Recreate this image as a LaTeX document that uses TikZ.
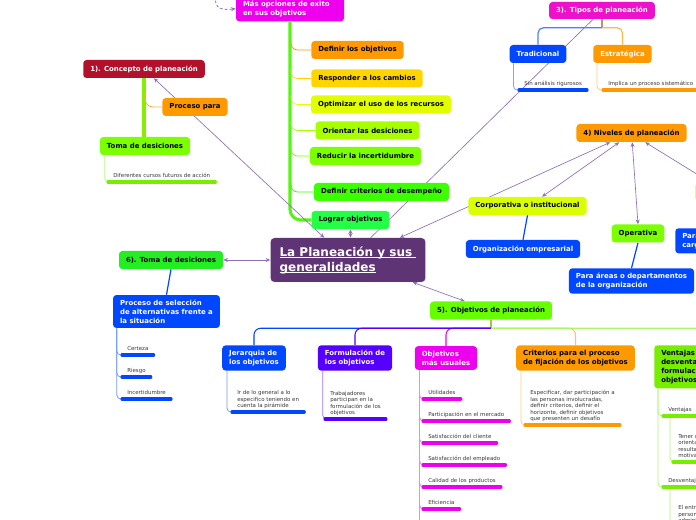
\documentclass[tikz,border=0pt]{standalone}
\usepackage{fontspec}
\setmainfont{DejaVu Sans}
\usetikzlibrary{arrows.meta,calc,backgrounds}

\definecolor{cpurple}{HTML}{5E3475}
\definecolor{ccrimson}{HTML}{B3102C}
\definecolor{corange}{HTML}{FF9900}
\definecolor{cgold}{HTML}{FFD500}
\definecolor{cyellow}{HTML}{E2FF00}
\definecolor{cyg}{HTML}{A8FF00}
\definecolor{clime}{HTML}{7CFF00}
\definecolor{cgreen}{HTML}{3CFF00}
\definecolor{cgreen2}{HTML}{22FF44}
\definecolor{cgreen6}{HTML}{22EE22}
\definecolor{cgreen5}{HTML}{66FF00}
\definecolor{cmag}{HTML}{EE00EE}
\definecolor{cpink}{HTML}{EE11CC}
\definecolor{cblue}{HTML}{0047FF}
\definecolor{cviolet}{HTML}{5500FF}
\definecolor{cvent}{HTML}{77EE00}
\definecolor{ccorp}{HTML}{D9FF00}
\definecolor{carrow}{HTML}{9070B8}
\definecolor{cleaftext}{HTML}{383838}
\definecolor{cbrown}{HTML}{B8946A}
\definecolor{cmain}{HTML}{55F510}
\definecolor{cthick}{HTML}{88EE00}
\definecolor{colive}{HTML}{99CC44}

\newcommand\myul[1]{\setbox0=\hbox{#1}\rlap{\rule[-1.6pt]{\wd0}{0.6pt}}\box0}

\tikzset{
  box/.style={rounded corners=2.5pt, inner xsep=5.25pt, inner ysep=3.5pt, minimum height=13.5pt, align=left, font=\bfseries\fontsize{5.2}{6.75}\selectfont, text=black},
  wbox/.style={box, text=white},
  leafn/.style={anchor=south west, inner xsep=3.75pt, inner ysep=2.2pt, text depth=0.9pt, align=left, font=\fontsize{4.1}{4.9}\selectfont, text=cleaftext},
  ulstyle/.style={line width=2.3pt, line cap=round},
  thinl/.style={line width=0.6pt, rounded corners=3pt},
  branch/.style={line width=0.6pt, rounded corners=5pt},
  objl/.style={line width=0.8pt, rounded corners=5pt},
  conn/.style={line width=0.9pt},
  arr/.style={draw=carrow, line width=0.5pt, {Stealth[length=3.5pt,width=3pt]}-{Stealth[length=3.5pt,width=3pt]}},
}

\begin{document}
\begin{tikzpicture}[x=0.75pt,y=-0.75pt]
\useasboundingbox (0,0) rectangle (696,520);

% central node
\node[wbox, fill=cpurple, font=\bfseries\fontsize{9}{11.25}\selectfont, inner xsep=6.75pt, minimum height=33pt, minimum width=114pt, rounded corners=3pt] (center) at (348,260) {\myul{La Planeación y sus\ }\\\myul{generalidades}};

% Más opciones
\node[wbox, fill=cmag, text width=70.5pt] (mas) at (290,8.7) {Más opciones de exito\\en sus objetivos};
\node[box, fill=corange] (def) at (357.5,50) {Definir los objetivos};
\node[box, fill=cgold] (resp) at (367,78.5) {Responder a los cambios};
\node[box, fill=cyellow] (opt) at (381,104.5) {Optimizar el uso de los recursos};
\node[box, fill=cyg] (ori) at (367.5,130.5) {Orientar las desiciones};
\node[box, fill=clime] (red) at (365.5,156) {Reducir la incertidumbre};
\node[box, fill=cgreen] (crit) at (381.5,192) {Definir criterios de desempeño};
\node[box, fill=cgreen2] (log) at (350.5,220) {Lograr objetivos};

% Concepto
\node[wbox, fill=ccrimson] (concepto) at (144,69) {1). Concepto de planeación};
\node[box, fill=corange] (proceso) at (195,107) {Proceso para};
\node[box, fill=clime] (toma1) at (145,146) {Toma de desiciones};
\node[leafn] (lt1) at (108,182) {Diferentes cursos futuros de acción};

% Tipos
\node[wbox, fill=cpink, minimum height=12.75pt] (tipos) at (602,10.5) {3). Tipos de planeación};
\node[wbox, fill=cblue] (trad) at (538,54) {Tradicional};
\node[wbox, fill=corange] (estr) at (622.5,54) {Estratégica};
\node[leafn] (ltrad) at (519,90) {Sin análisis rigurosos};
\node[leafn] (lestr) at (603,90) {Implica un proceso sistemático};

% Niveles
\node[box, fill=corange] (niv) at (631.5,133) {4) Niveles de planeación};
\node[box, fill=ccorp] (corp) at (527.5,206) {Corporativa o institucional};
\node[wbox, fill=cblue] (orgemp) at (523,249) {Organización empresarial};
\node[box, fill=clime] (oper) at (638,233.5) {Operativa};
\node[wbox, fill=cblue] (areas) at (631.5,281) {Para áreas o departamentos\\de la organización};
\node[wbox, fill=cblue, anchor=north west] (cargos) at (675,228) {Para los\\cargos};
\node[box, fill=cyellow, anchor=west] (tact) at (695,192) {Táctica};

% Toma de desiciones 6
\node[box, fill=cgreen6] (toma6) at (171,260) {6). Toma de desiciones};
\node[wbox, fill=cblue] (procsel) at (166.5,311.5) {Proceso de selección\\de alternativas frente a\\la situación};
\node[leafn] (lcert) at (122,355) {Certeza};
\node[leafn] (lries) at (122,377) {Riesgo};
\node[leafn] (linc) at (122,399) {Incertidumbre};

% Objetivos 5
\node[box, fill=cgreen5] (obj5) at (491,310.5) {5). Objetivos de planeación};
\node[wbox, fill=cblue] (jer) at (254,358) {Jerarquia de\\los objetivos};
\node[wbox, fill=cviolet] (form) at (355,358) {Formulación de\\los objetivos};
\node[wbox, fill=cmag] (usu) at (446,358) {Objetivos\\más usuales};
\node[box, fill=corange] (critp) at (575.5,358) {Criterios para el proceso\\de fijación de los objetivos};
\node[box, fill=cvent, anchor=north west, text width=80pt] (vent) at (654,345) {Ventajas y\\desventajas de la\\formulación de\\objetivos};

\node[leafn] (lj) at (232,412) {Ir de lo general a lo\\especifico teniendo en\\cuenta la pirámide};
\node[leafn] (lf) at (325,419) {Trabajadores\\participan en la\\formulación de los\\objetivos};
\node[leafn] (lu1) at (423,399) {Utilidades};
\node[leafn] (lu2) at (423,421) {Participación en el mercado};
\node[leafn] (lu3) at (423,443) {Satisfacción del cliente};
\node[leafn] (lu4) at (423,465) {Satisfacción del empleado};
\node[leafn] (lu5) at (423,487) {Calidad de los productos};
\node[leafn] (lu6) at (423,509) {Eficiencia};
\node[leafn] (lc) at (525,425) {Especificar, dar participación a\\las personas involucradas,\\definir criterios, definir el\\horizonte, definir objetivos\\que presenten un desafío};
\node[leafn] (lv) at (663,416) {Ventajas};
\node[leafn] (lten) at (673,462) {Tener una\\orientación a\\resultados y\\motivación};
\node[leafn] (ldes) at (663,487) {Desventajas};
\node[leafn] (lent) at (673,527) {El entrenamiento\\personal\\administrativo};

% underlines
\foreach \l/\c in {lt1/cvent, ltrad/cblue, lestr/corange, lcert/cblue, lries/cblue, linc/cblue, lj/cblue, lf/cviolet, lu1/cmag, lu2/cmag, lu3/cmag, lu4/cmag, lu5/cmag, lu6/cmag, lc/corange, lv/cvent, lten/cvent, ldes/cvent, lent/cvent}
  \draw[ulstyle, draw=\c] (\l.south west) -- (\l.south east);

\begin{pgfonlayer}{background}
\fill[white] (0,0) rectangle (696,520);

% Más opciones tree
\draw[line width=2.3pt, draw=cmain, rounded corners=8pt] (mas.south) |- (log.west);
\foreach \n/\c in {def/corange, resp/cgold, opt/cyellow, ori/cyg, red/clime, crit/cgreen}
  \draw[branch, draw=\c] ($(mas.south |- \n.west)+(1,-9)$) |- (\n.west);
\coordinate (dtop) at (216,-4);
\draw[draw=carrow, dash pattern=on 2pt off 1.5pt, line width=0.6pt, -{Stealth[length=3.5pt,width=3pt]}] (dtop) .. controls (213,10) and (224,10) .. (mas.west);

% Concepto tree
\draw[line width=2.3pt, draw=cthick] (concepto.south) -- (concepto.south |- toma1.north);
\draw[branch, draw=corange!80!white, rounded corners=6pt] ($(concepto.south)+(1,14)$) |- (proceso.west);
\draw[thinl, draw=cvent!50!white] ($(toma1.south west)+(5,0)$) |- (lt1.south west);

% Tipos tree
\coordinate (tj) at ($(tipos.south)+(0,8.5)$);
\draw[conn, draw=cbrown] (tipos.south) -- (tj);
\draw[conn, draw=cblue!70!white, rounded corners=4pt] (tj) -| (trad.north);
\draw[conn, draw=corange!70!white, rounded corners=4pt] (tj) -| (estr.north);
\draw[thinl, draw=cblue!50!white] ($(trad.south west)+(4,0)$) |- (ltrad.south west);
\draw[thinl, draw=corange!50!white] ($(estr.south west)+(4,0)$) |- (lestr.south west);

% relationships
\draw[draw=carrow, line width=0.5pt] (tipos) -- (center);
\draw[arr] (concepto) -- (center);
\draw[arr] ($(niv.south west)+(34,0)$) -- ($(center.north east)+(-26,0)$);
\draw[arr] ($(niv.south west)+(43,0)$) -- ($(corp.north)+(14.5,0)$);
\draw[arr] ($(niv.south west)+(56,0)$) -- (oper.north);
\draw[arr] ($(niv.south west)+(69,0)$) -- ($(tact.north)+(-5,0)$);
\draw[arr] (log.south) -- (log.south |- center.north);
\draw[arr] (toma6.east) -- (center.west);
\draw[arr] ($(center.south east)+(-13,0)$) -- ($(obj5.north west)+(35,0)$);

% blue subtopic links
\draw[conn, draw=cblue] (corp.south) -- (orgemp.north);
\draw[conn, draw=cblue] (oper.south) -- (areas.north);
\draw[conn, draw=cblue] (toma6.south) -- (procsel.north);
\foreach \l in {lcert, lries, linc}
  \draw[thinl, draw=cblue!55!white] ($(procsel.south west)+(4,0)$) |- (\l.south west);

% Objetivos tree
\coordinate (oj) at ($(obj5.south)+(0,8.5)$);
\draw[conn, draw=colive] (obj5.south) -- (oj);
\draw[objl, draw=cmag] (oj) -| (usu.north);
\draw[objl, draw=cblue] (oj) -| (jer.north);
\draw[objl, draw=cviolet] (oj) -| (form.north);
\draw[objl, draw=corange!60!white] (oj) -| (critp.north);
\draw[objl, draw=cvent!60!white] (oj) -| (vent.north);
\draw[thinl, draw=cblue!55!white] ($(jer.south west)+(5,0)$) |- (lj.south west);
\draw[thinl, draw=cviolet!55!white] ($(form.south west)+(5,0)$) |- (lf.south west);
\foreach \l in {lu1, lu2, lu3, lu4, lu5, lu6}
  \draw[thinl, draw=cmag!50!white] ($(usu.south west)+(5,0)$) |- (\l.south west);
\coordinate (uend) at ($(usu.south west)+(5,170)$);
\draw[thinl, draw=cmag!50!white] ($(usu.south west)+(5,0)$) -- (uend);
\draw[thinl, draw=corange!50!white] ($(critp.south west)+(5,0)$) |- (lc.south west);
\draw[thinl, draw=cvent!55!white] ($(vent.south west)+(4,0)$) |- (lv.south west);
\draw[thinl, draw=cvent!55!white] ($(vent.south west)+(4,0)$) |- (ldes.south west);
\draw[thinl, draw=cvent!55!white] ($(lv.south west)+(7,0)$) |- (lten.south west);
\draw[thinl, draw=cvent!55!white] ($(ldes.south west)+(7,0)$) |- (lent.south west);
\end{pgfonlayer}
\end{tikzpicture}
\end{document}
